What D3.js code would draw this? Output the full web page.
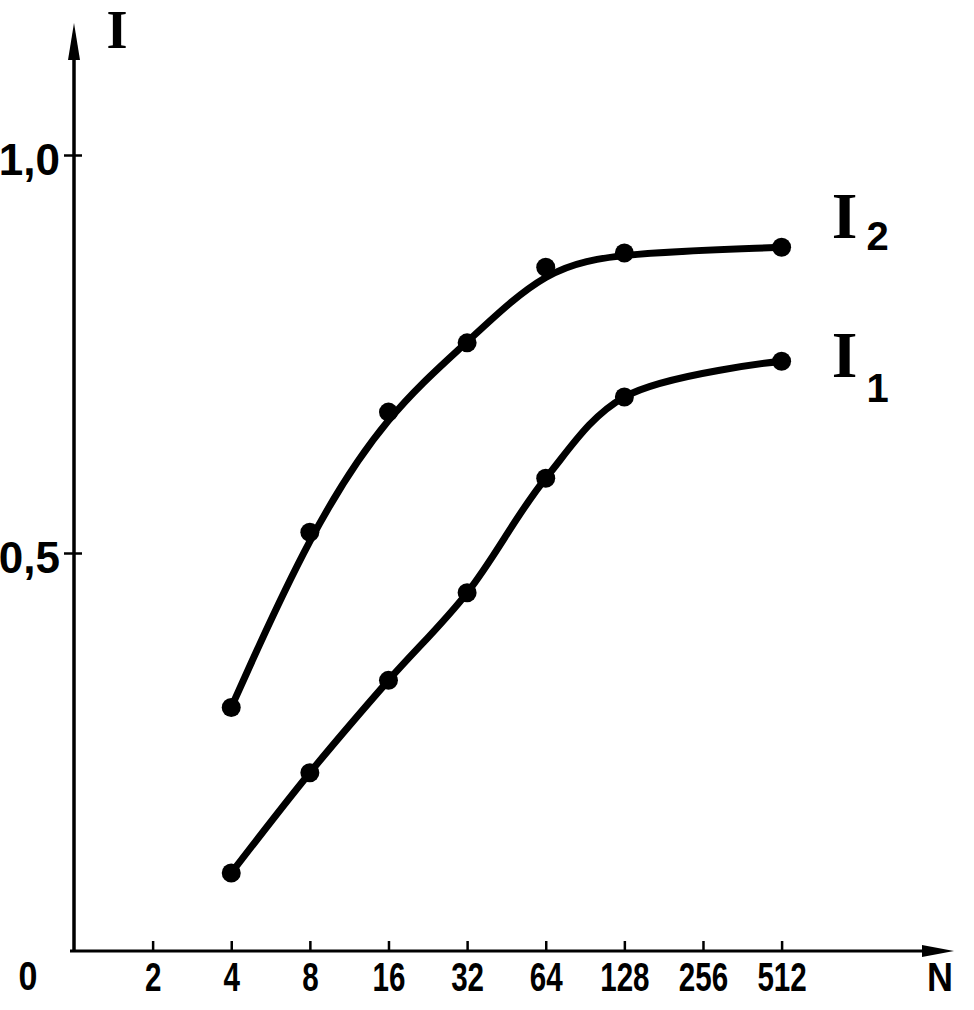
<!DOCTYPE html>
<html>
<head>
<meta charset="utf-8">
<script src="https://cdn.jsdelivr.net/npm/d3@7"></script>
<style>
  html, body { margin: 0; padding: 0; background: #fff; }
  svg { display: block; }
</style>
</head>
<body>
<script>
// ---- data ----
const nValues = [4, 8, 16, 32, 64, 128, 512];
const i2Values = [0.306, 0.526, 0.677, 0.764, 0.859, 0.877, 0.884];
const i1Values = [0.098, 0.224, 0.340, 0.450, 0.594, 0.696, 0.741];
const xTickValues = [2, 4, 8, 16, 32, 64, 128, 256, 512];
const xTickLabels = ["2", "4", "8", "16", "32", "64", "128", "256", "512"];
const yTickValues = [0.5, 1.0];
const yTickLabels = ["0,5", "1,0"];
const seriesNames = ["I", "I"];
const seriesSubs = ["2", "1"];

const W = 974, H = 1010;
const svg = d3.select("body").append("svg").attr("width", W).attr("height", H);

const x0 = 74, y0 = 951;
const x = d3.scaleLog().base(2).domain([1, 512]).range([x0, 781.6]);
const y = d3.scaleLinear().domain([0, 1]).range([y0, 155]);

const sans = "Liberation Sans, Arial, sans-serif";
const serif = "Liberation Serif, Times New Roman, serif";

// axes lines with arrows
svg.append("path")
  .attr("d", `M${x0},${y0} L${x0},40`)
  .attr("stroke", "#000").attr("stroke-width", 3.5).attr("fill", "none");
svg.append("path")
  .attr("d", `M${x0},23 L${x0 - 6},60 L${x0 + 6},60 Z`)
  .attr("fill", "#000");
svg.append("path")
  .attr("d", `M${x0 - 4},${y0} L930,${y0}`)
  .attr("stroke", "#000").attr("stroke-width", 3).attr("fill", "none");
svg.append("path")
  .attr("d", `M954,${y0} L922,${y0 - 6} L922,${y0 + 6} Z`)
  .attr("fill", "#000");

// x axis ticks
const xAxis = d3.axisBottom(x)
  .tickValues(xTickValues)
  .tickFormat((d, i) => xTickLabels[i])
  .tickSizeInner(-10).tickSizeOuter(0);
const gx = svg.append("g").attr("transform", `translate(0,${y0})`).call(xAxis);
gx.select(".domain").remove();
gx.selectAll(".tick line").attr("stroke", "#000").attr("stroke-width", 2.5);
gx.selectAll(".tick text")
  .attr("y", 40).attr("dy", 0)
  .attr("fill", "#000")
  .attr("font-family", sans)
  .attr("font-weight", "bold")
  .attr("font-size", 40)
  .attr("transform", "scale(0.74,1)");

// y axis ticks
const yAxis = d3.axisLeft(y)
  .tickValues(yTickValues)
  .tickFormat((d, i) => yTickLabels[i])
  .tickSizeInner(10).tickSizeOuter(0);
const gy = svg.append("g").attr("transform", `translate(${x0},0)`).call(yAxis);
gy.select(".domain").remove();
gy.selectAll(".tick line").attr("x1", 8).attr("x2", -10)
  .attr("stroke", "#000").attr("stroke-width", 2.5);
gy.selectAll(".tick text")
  .attr("x", -14).attr("dy", 19)
  .attr("text-anchor", "end")
  .attr("fill", "#000")
  .attr("font-family", sans)
  .attr("font-weight", "bold")
  .attr("font-size", 44);

// origin, axis titles
svg.append("text").attr("x", 28).attr("y", 990).attr("text-anchor", "middle")
  .attr("font-family", sans).attr("font-weight", "bold").attr("font-size", 40)
  .attr("transform", "translate(28,0) scale(0.85,1) translate(-28,0)")
  .text("0");
svg.append("text").attr("x", 940).attr("y", 991).attr("text-anchor", "middle")
  .attr("font-family", sans).attr("font-weight", "bold").attr("font-size", 40)
  .attr("transform", "translate(940,0) scale(0.9,1) translate(-940,0)")
  .text("N");
svg.append("text").attr("x", 117).attr("y", 48).attr("text-anchor", "middle")
  .attr("font-family", serif).attr("font-weight", "bold").attr("font-size", 54)
  .text("I");

// curves
const lineSmooth = d3.line()
  .x((d, i) => x(nValues[i]))
  .y(d => y(d))
  .curve(d3.curveBasis);
const lineThrough = d3.line()
  .x((d, i) => x(nValues[i]))
  .y(d => y(d))
  .curve(d3.curveCatmullRom.alpha(0.5));

[[i2Values, lineSmooth], [i1Values, lineThrough]].forEach(([vals, ln]) => {
  svg.append("path").attr("d", ln(vals))
    .attr("fill", "none").attr("stroke", "#000")
    .attr("stroke-width", 7).attr("stroke-linecap", "round");
  svg.selectAll(null).data(vals).enter().append("circle")
    .attr("cx", (d, i) => x(nValues[i]))
    .attr("cy", d => y(d))
    .attr("r", 9.5).attr("fill", "#000");
});

// series labels
const lastVals = [i2Values[i2Values.length - 1], i1Values[i1Values.length - 1]];
const labelOffsets = [{dy: -9, sdy: 3}, {dy: 16, sdy: 41}];
lastVals.forEach((v, k) => {
  const lx = x(nValues[nValues.length - 1]);
  const ly = y(v);
  svg.append("text").attr("x", lx + 63).attr("y", ly + labelOffsets[k].dy)
    .attr("text-anchor", "middle")
    .attr("font-family", serif).attr("font-weight", "bold").attr("font-size", 66)
    .text(seriesNames[k]);
  svg.append("text").attr("x", lx + 96).attr("y", ly + labelOffsets[k].sdy)
    .attr("text-anchor", "middle")
    .attr("font-family", sans).attr("font-weight", "bold").attr("font-size", 40)
    .text(seriesSubs[k]);
});
</script>
</body>
</html>
